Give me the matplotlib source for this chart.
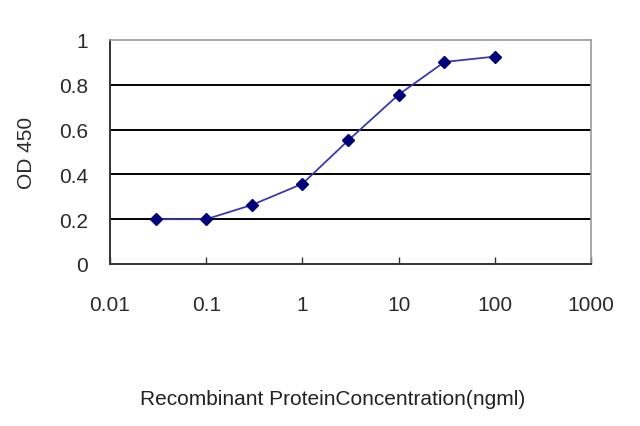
import matplotlib
matplotlib.use("Agg")
import matplotlib.pyplot as plt

# ELISA standard curve
conc = [0.03, 0.1, 0.3, 1, 3, 10, 30, 100]
od450 = [0.20, 0.20, 0.264, 0.358, 0.552, 0.756, 0.902, 0.926]
x_ticks = [0.01, 0.1, 1, 10, 100, 1000]
x_tick_labels = ["0.01", "0.1", "1", "10", "100", "1000"]
y_ticks = [0, 0.2, 0.4, 0.6, 0.8, 1]
y_tick_labels = ["0", "0.2", "0.4", "0.6", "0.8", "1"]

plt.rcParams['font.family'] = ['Liberation Sans', 'DejaVu Sans']

fig = plt.figure(figsize=(6.4, 4.27), dpi=100)
ax = fig.add_axes([110/640, 1 - 265/427, 481/640, 224/427])

for y in y_ticks[1:-1]:
    ax.axhline(y, color='black', lw=1.4, zorder=1)

ax.plot(conc, od450, color='#3a3ab0', lw=1.3, marker='D', ms=6.5,
        mfc='#00007a', mec='#00007a', zorder=3)

ax.set_xscale('log')
ax.set_xlim(0.01, 1000)
ax.set_ylim(0, 1)
ax.set_xticks(x_ticks)
ax.set_xticklabels(x_tick_labels)
ax.minorticks_off()
ax.set_yticks(y_ticks)
ax.set_yticklabels(y_tick_labels)

ax.tick_params(axis='x', direction='in', length=5, width=1, color='#333333',
               labelsize=15, labelcolor='#2a2a2a', pad=22)
ax.tick_params(axis='y', length=0, labelsize=15, labelcolor='#2a2a2a', pad=16)

for side in ['left', 'bottom']:
    ax.spines[side].set_color('#333333')
    ax.spines[side].set_linewidth(1.4)
for side in ['top', 'right']:
    ax.spines[side].set_color('#9a9a9a')
    ax.spines[side].set_linewidth(1.2)

ax.set_ylabel("OD 450", fontsize=15, color='#2a2a2a', labelpad=16)
fig.text(333/640, 1 - 400/427, "Recombinant ProteinConcentration(ngml)",
         ha='center', va='center', fontsize=15, color='#222222')

fig.savefig("out.png", dpi=100)
